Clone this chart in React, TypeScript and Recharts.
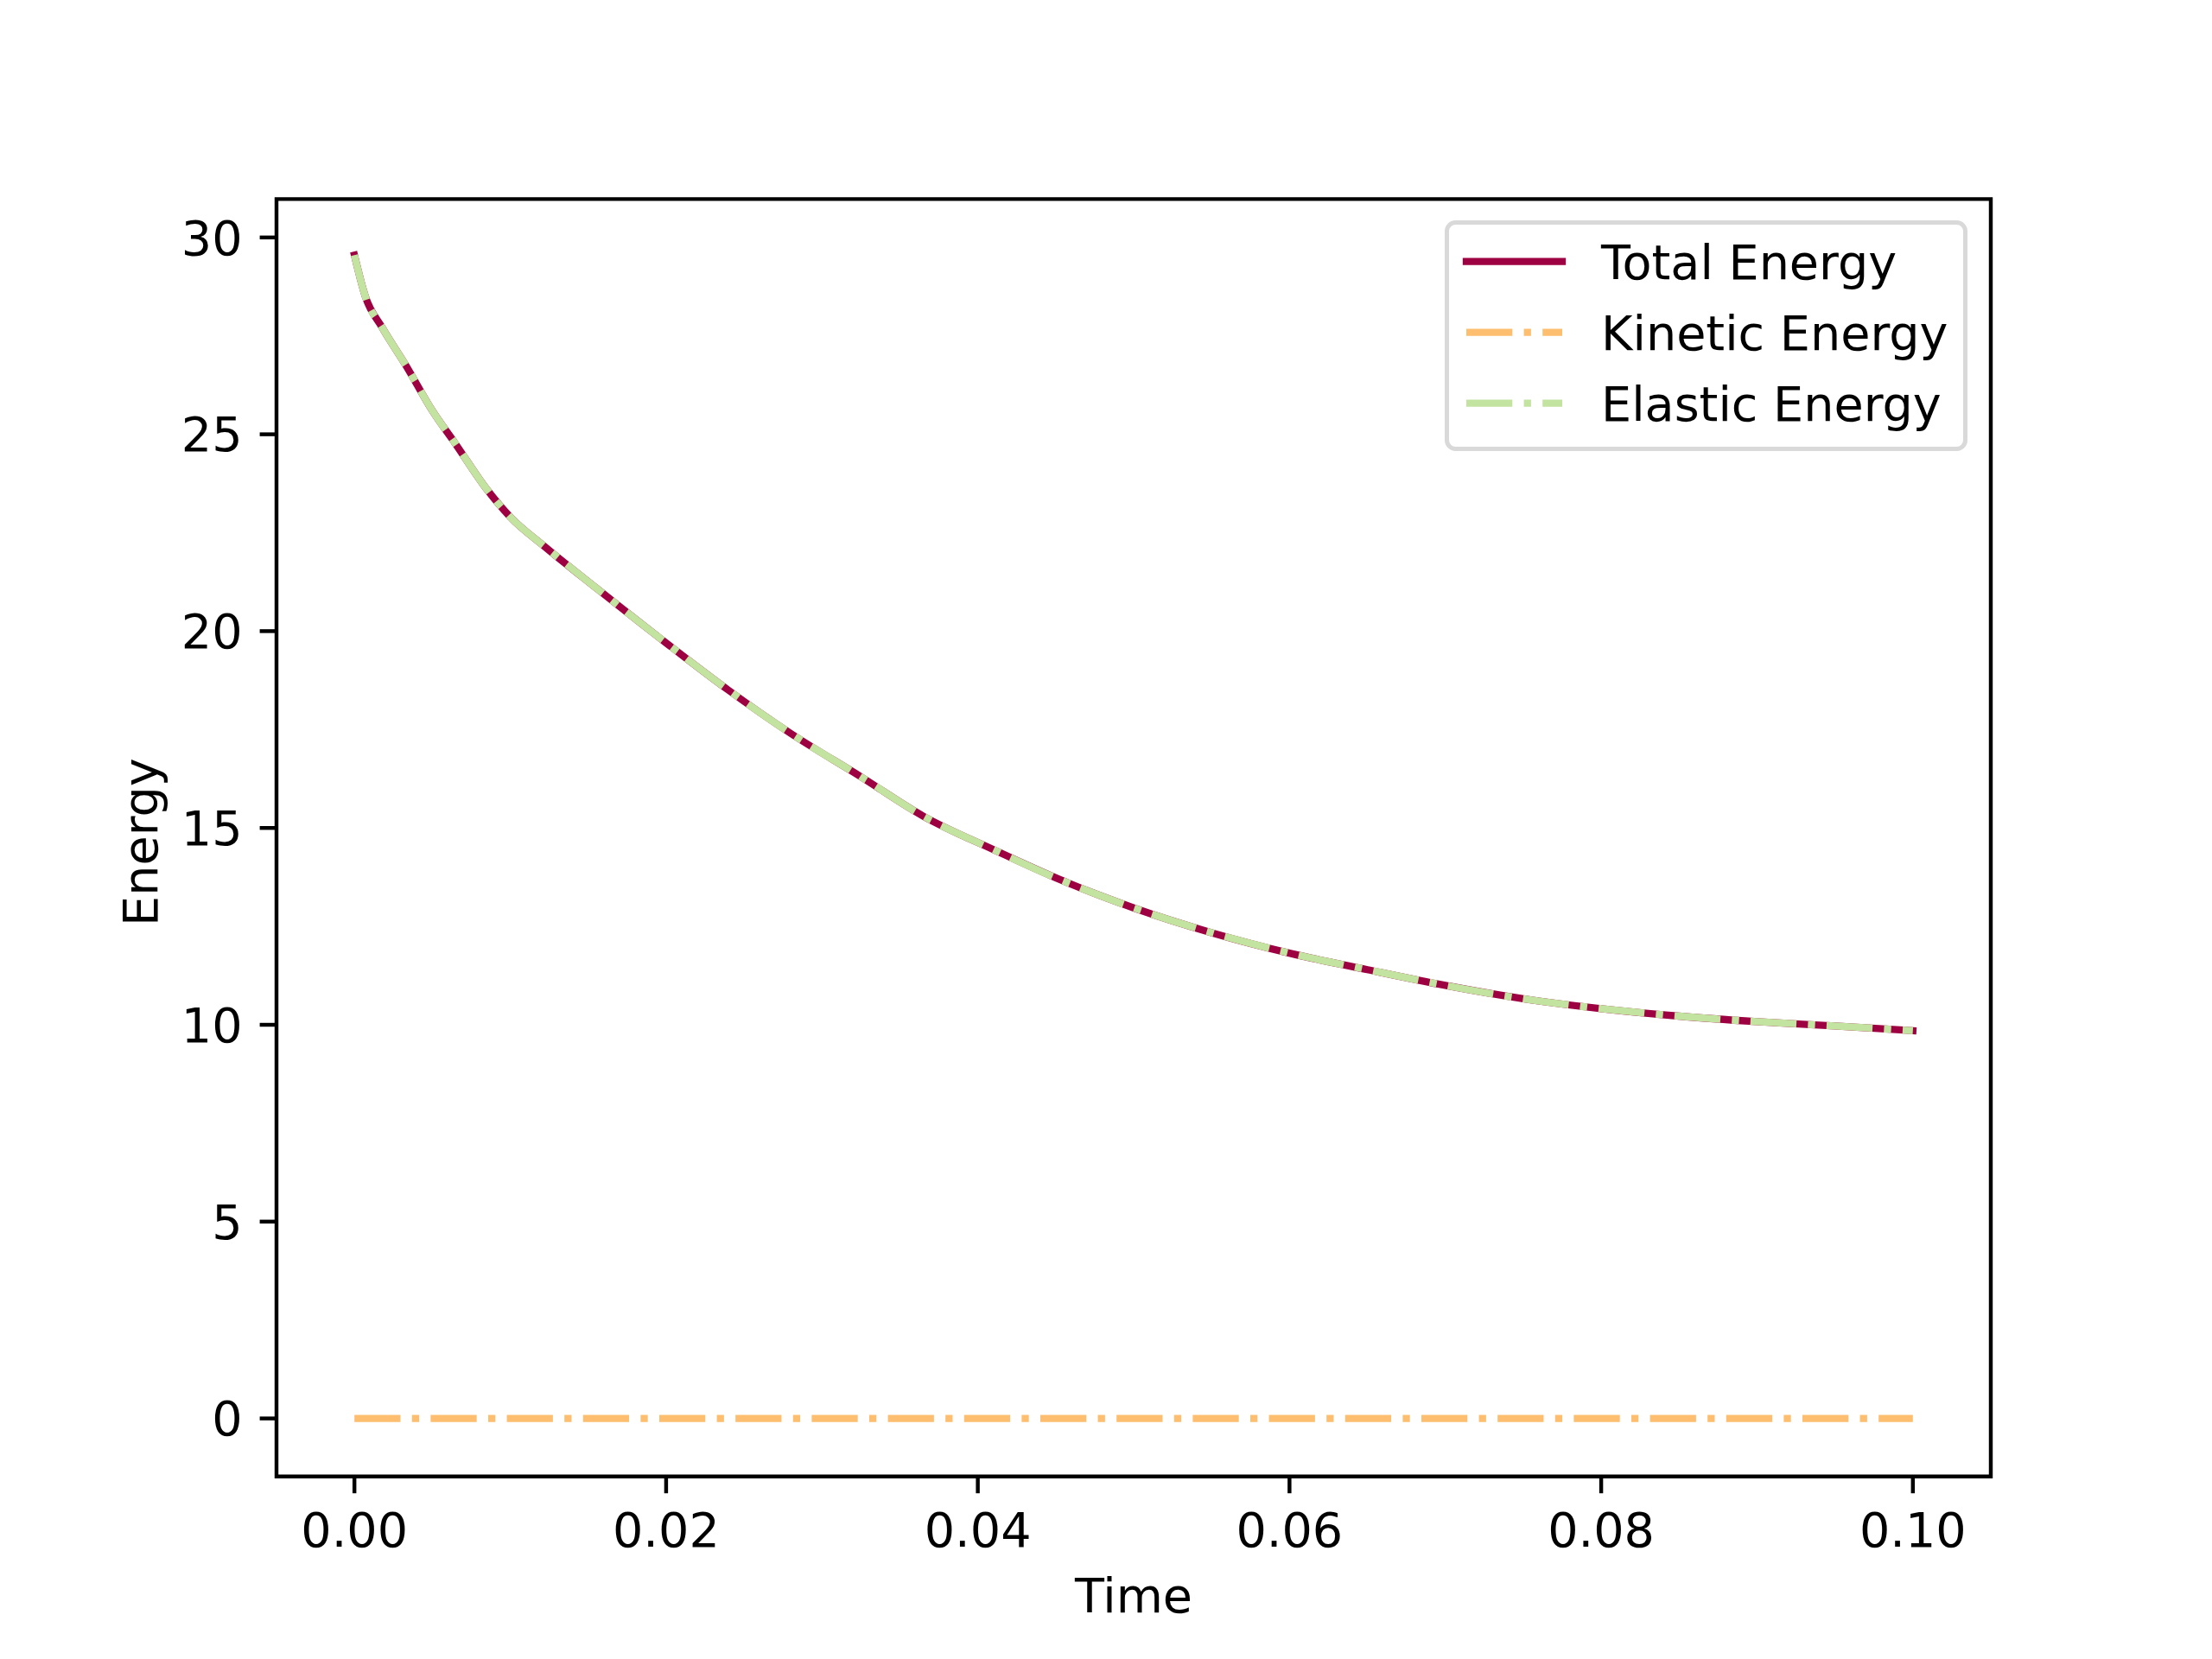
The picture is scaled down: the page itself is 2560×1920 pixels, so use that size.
import {
  LineChart,
  Line,
  XAxis,
  YAxis,
  Legend,
  ReferenceArea,
} from "recharts";

// values
const times = [
  0, 0.0007, 0.0018, 0.0033, 0.005, 0.0065, 0.0085, 0.01, 0.0122, 0.0155,
  0.02, 0.024, 0.028, 0.0325, 0.0365, 0.041, 0.0455, 0.05, 0.055, 0.06,
  0.065, 0.07, 0.075, 0.08, 0.085, 0.09, 0.095, 0.1,
];
const totalEnergy = [
  29.55, 28.5, 27.7, 26.75, 25.6, 24.75, 23.6, 22.9, 22.15, 21.1,
  19.7, 18.5, 17.4, 16.3, 15.3, 14.45, 13.65, 12.97, 12.34, 11.82,
  11.4, 11.0, 10.66, 10.41, 10.22, 10.08, 9.97, 9.85,
];
const kineticEnergy = [
  0, 0, 0, 0, 0, 0, 0, 0, 0, 0,
  0, 0, 0, 0, 0, 0, 0, 0, 0, 0,
  0, 0, 0, 0, 0, 0, 0, 0,
];
const elasticEnergy = [
  29.55, 28.5, 27.7, 26.75, 25.6, 24.75, 23.6, 22.9, 22.15, 21.1,
  19.7, 18.5, 17.4, 16.3, 15.3, 14.45, 13.65, 12.97, 12.34, 11.82,
  11.4, 11.0, 10.66, 10.41, 10.22, 10.08, 9.97, 9.85,
];
const xTicks = [0, 0.02, 0.04, 0.06, 0.08, 0.1];
const yTicks = [0, 5, 10, 15, 20, 25, 30];

const seriesNames = ["Total Energy", "Kinetic Energy", "Elastic Energy"];
const seriesKeys = ["total", "kinetic", "elastic"];
const seriesColors = ["#9e0142", "#fdbf6f", "#c2e4a0"];

const FONT = "DejaVu Sans";
const FS = 55.6;
const LW = 8.33;
const DASHDOT = "53.3 13.3 8.3 13.3";
const dashes = [undefined, DASHDOT, DASHDOT];
// matplotlib: solid lines get projecting caps, dashed ones butt caps
const caps = ["square", "butt", "butt"] as const;

const data = times.map((t, i) => ({
  t,
  total: totalEnergy[i],
  kinetic: kineticEnergy[i],
  elastic: elasticEnergy[i],
}));

const tickStyle = { fill: "#000", fontSize: FS, fontFamily: FONT };
const tickLine = { stroke: "#000", strokeWidth: 4.44 };

function renderLegend() {
  return (
    <svg width={605} height={267} style={{ display: "block" }}>
      <rect
        x={2.5}
        y={2.5}
        width={600}
        height={262}
        rx={10}
        fill="#fff"
        fillOpacity={0.8}
        stroke="#d9d9d9"
        strokeWidth={5}
      />
      {seriesNames.map((name, i) => (
        <g key={name}>
          <line
            x1={25}
            x2={136}
            y1={47.7 + i * 82}
            y2={47.7 + i * 82}
            stroke={seriesColors[i]}
            strokeWidth={LW}
            strokeDasharray={dashes[i]}
            strokeLinecap={caps[i]}
          />
          <text x={181} y={68.3 + i * 81.7} fontSize={FS} fontFamily={FONT} fill="#000">
            {name}
          </text>
        </g>
      ))}
    </svg>
  );
}

function renderYLabel(props: any) {
  const vb = props?.viewBox ?? { x: 0, y: 230.4, width: 320, height: 1478.4 };
  const cx = 182;
  const cy = vb.y + vb.height / 2 + 5;
  return (
    <text
      x={cx}
      y={cy}
      transform={`rotate(-90, ${cx}, ${cy})`}
      textAnchor="middle"
      fontSize={FS}
      fontFamily={FONT}
      fill="#000"
    >
      Energy
    </text>
  );
}

function renderXLabel(props: any) {
  const vb = props?.viewBox ?? { x: 320, y: 1708.8, width: 1984, height: 211.2 };
  const cx = vb.x + vb.width / 2;
  return (
    <text x={cx} y={1866} textAnchor="middle" fontSize={FS} fontFamily={FONT} fill="#000">
      Time
    </text>
  );
}

export default function App() {
  return (
    <div style={{ position: "absolute", left: 0, top: 0, width: 2560, height: 1920, background: "#fff" }}>
      <LineChart
        width={2560}
        height={1920}
        data={data}
        margin={{ top: 230.4, right: 256, bottom: 0, left: 0 }}
        style={{ fontFamily: FONT }}
      >
        <XAxis
          dataKey="t"
          type="number"
          domain={[-0.005, 0.105]}
          allowDataOverflow
          ticks={xTicks}
          tickFormatter={(v: number) => v.toFixed(2)}
          height={211.2}
          tick={tickStyle}
          tickLine={tickLine}
          tickSize={19.4}
          tickMargin={22}
          axisLine={false}
          label={renderXLabel}
        />
        <YAxis
          type="number"
          domain={[-1.475, 30.975]}
          allowDataOverflow
          ticks={yTicks}
          width={320}
          tick={tickStyle}
          tickLine={tickLine}
          tickSize={19.4}
          tickMargin={20}
          axisLine={false}
          label={renderYLabel}
        />
        {seriesKeys.map((k, i) => (
          <Line
            key={k}
            dataKey={k}
            name={seriesNames[i]}
            type="monotone"
            stroke={seriesColors[i]}
            strokeWidth={LW}
            strokeDasharray={dashes[i]}
            strokeLinecap={caps[i]}
            dot={false}
            activeDot={false}
            isAnimationActive={false}
          />
        ))}
        <ReferenceArea
          x1={-0.005}
          x2={0.105}
          y1={-1.475}
          y2={30.975}
          fill="none"
          stroke="#000"
          strokeWidth={4.44}
          ifOverflow="visible"
        />
        <Legend
          content={renderLegend}
          layout="horizontal"
          verticalAlign="middle"
          align="center"
          wrapperStyle={{ left: 1672, top: 255, width: 605, height: 267 }}
        />
      </LineChart>
    </div>
  );
}
